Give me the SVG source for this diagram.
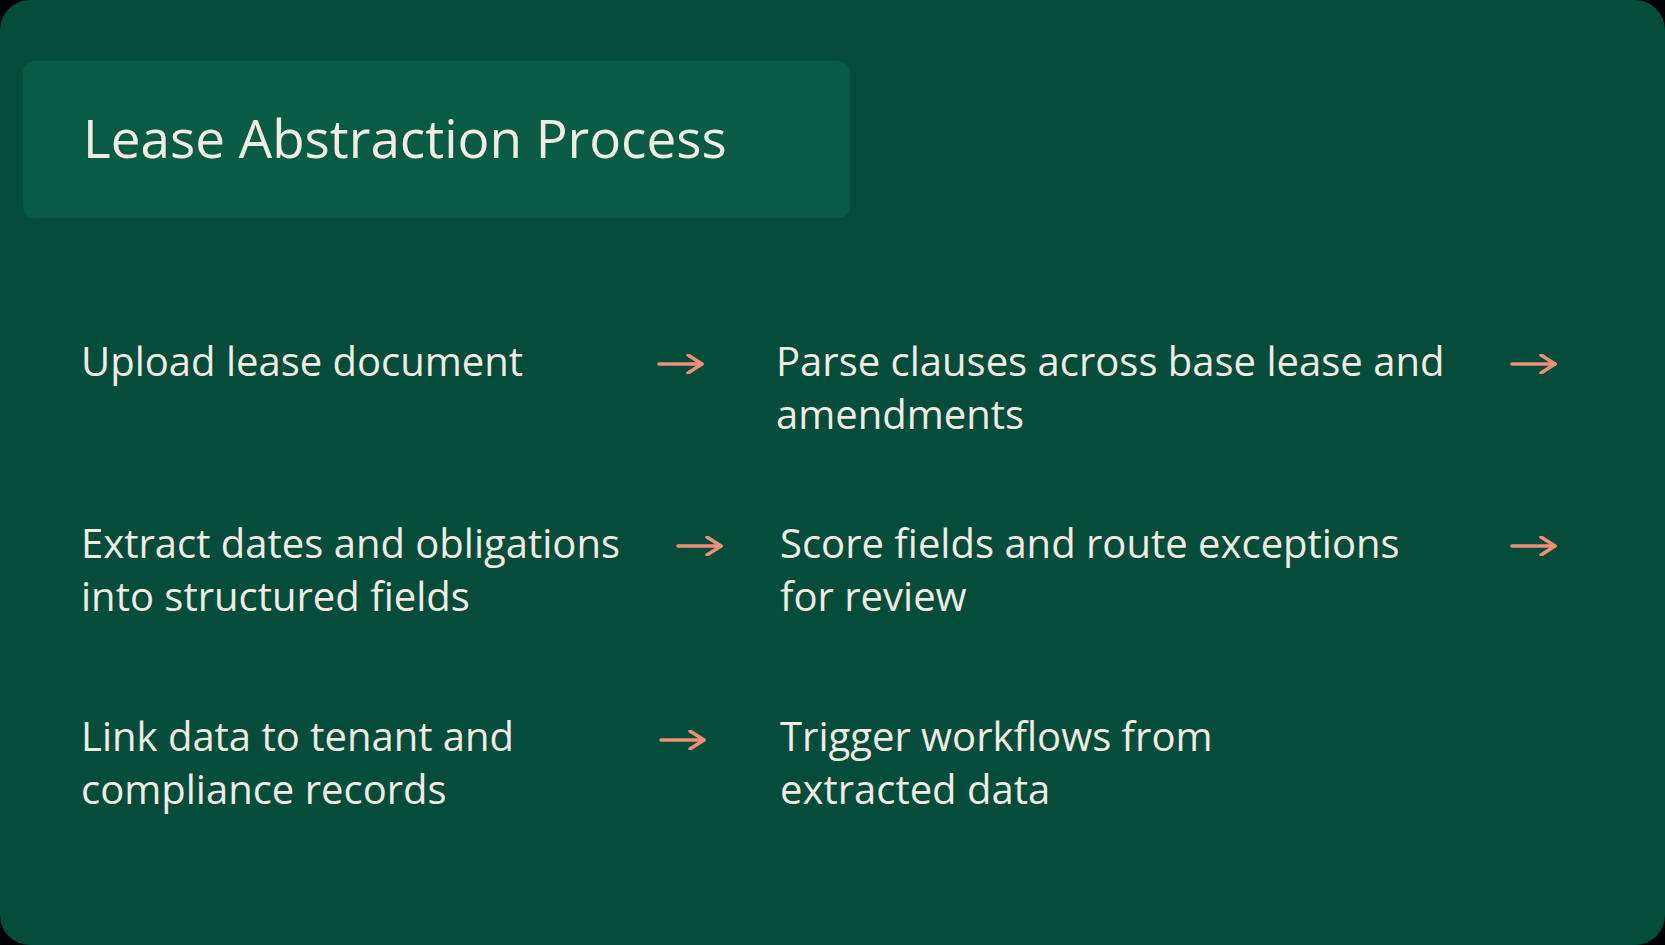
<svg xmlns="http://www.w3.org/2000/svg" width="1665" height="945" viewBox="0 0 1665 945">
<defs>
<style>
.t{font-family:"Open Sans","Liberation Sans",sans-serif;font-size:40px;fill:#efece3}
.a{stroke:#ee8f78;stroke-width:3.5;fill:none;stroke-linecap:round;stroke-linejoin:round}
</style>
<marker id="ah" viewBox="0 0 20 20" refX="17" refY="10" markerWidth="20" markerHeight="20" markerUnits="userSpaceOnUse" orient="auto"><path d="M3 1 L17 10 L3 19" class="a"/></marker>
</defs>
<rect width="1665" height="945" fill="#000"/>
<rect width="1665" height="945" rx="30" fill="#064c3b"/>
<g id="title"><rect x="23" y="61" width="827" height="157" rx="12" fill="#0a5b44"/>
<text x="83" y="158" style="font-family:'Open Sans','Liberation Sans',sans-serif;font-size:53px;fill:#efece3">Lease Abstraction Process</text></g>
<g id="n1"><text class="t" x="81" y="376">Upload lease document</text></g>
<g id="n2"><text class="t" x="776" y="376">Parse clauses across base lease and</text><text class="t" x="776" y="429">amendments</text></g>
<g id="n3"><text class="t" x="81" y="558">Extract dates and obligations</text><text class="t" x="81" y="611">into structured fields</text></g>
<g id="n4"><text class="t" x="780" y="558">Score fields and route exceptions</text><text class="t" x="780" y="611">for review</text></g>
<g id="n5"><text class="t" x="81" y="751">Link data to tenant and</text><text class="t" x="81" y="804">compliance records</text></g>
<g id="n6"><text class="t" x="780" y="751">Trigger workflows from</text><text class="t" x="780" y="804">extracted data</text></g>
<g id="connectors" class="a" marker-end="url(#ah)">
<line x1="659" y1="364" x2="702" y2="364"/>
<line x1="1512" y1="364" x2="1555" y2="364"/>
<line x1="678" y1="546" x2="721" y2="546"/>
<line x1="1512" y1="546" x2="1555" y2="546"/>
<line x1="661" y1="740" x2="704" y2="740"/>
</g>
</svg>
